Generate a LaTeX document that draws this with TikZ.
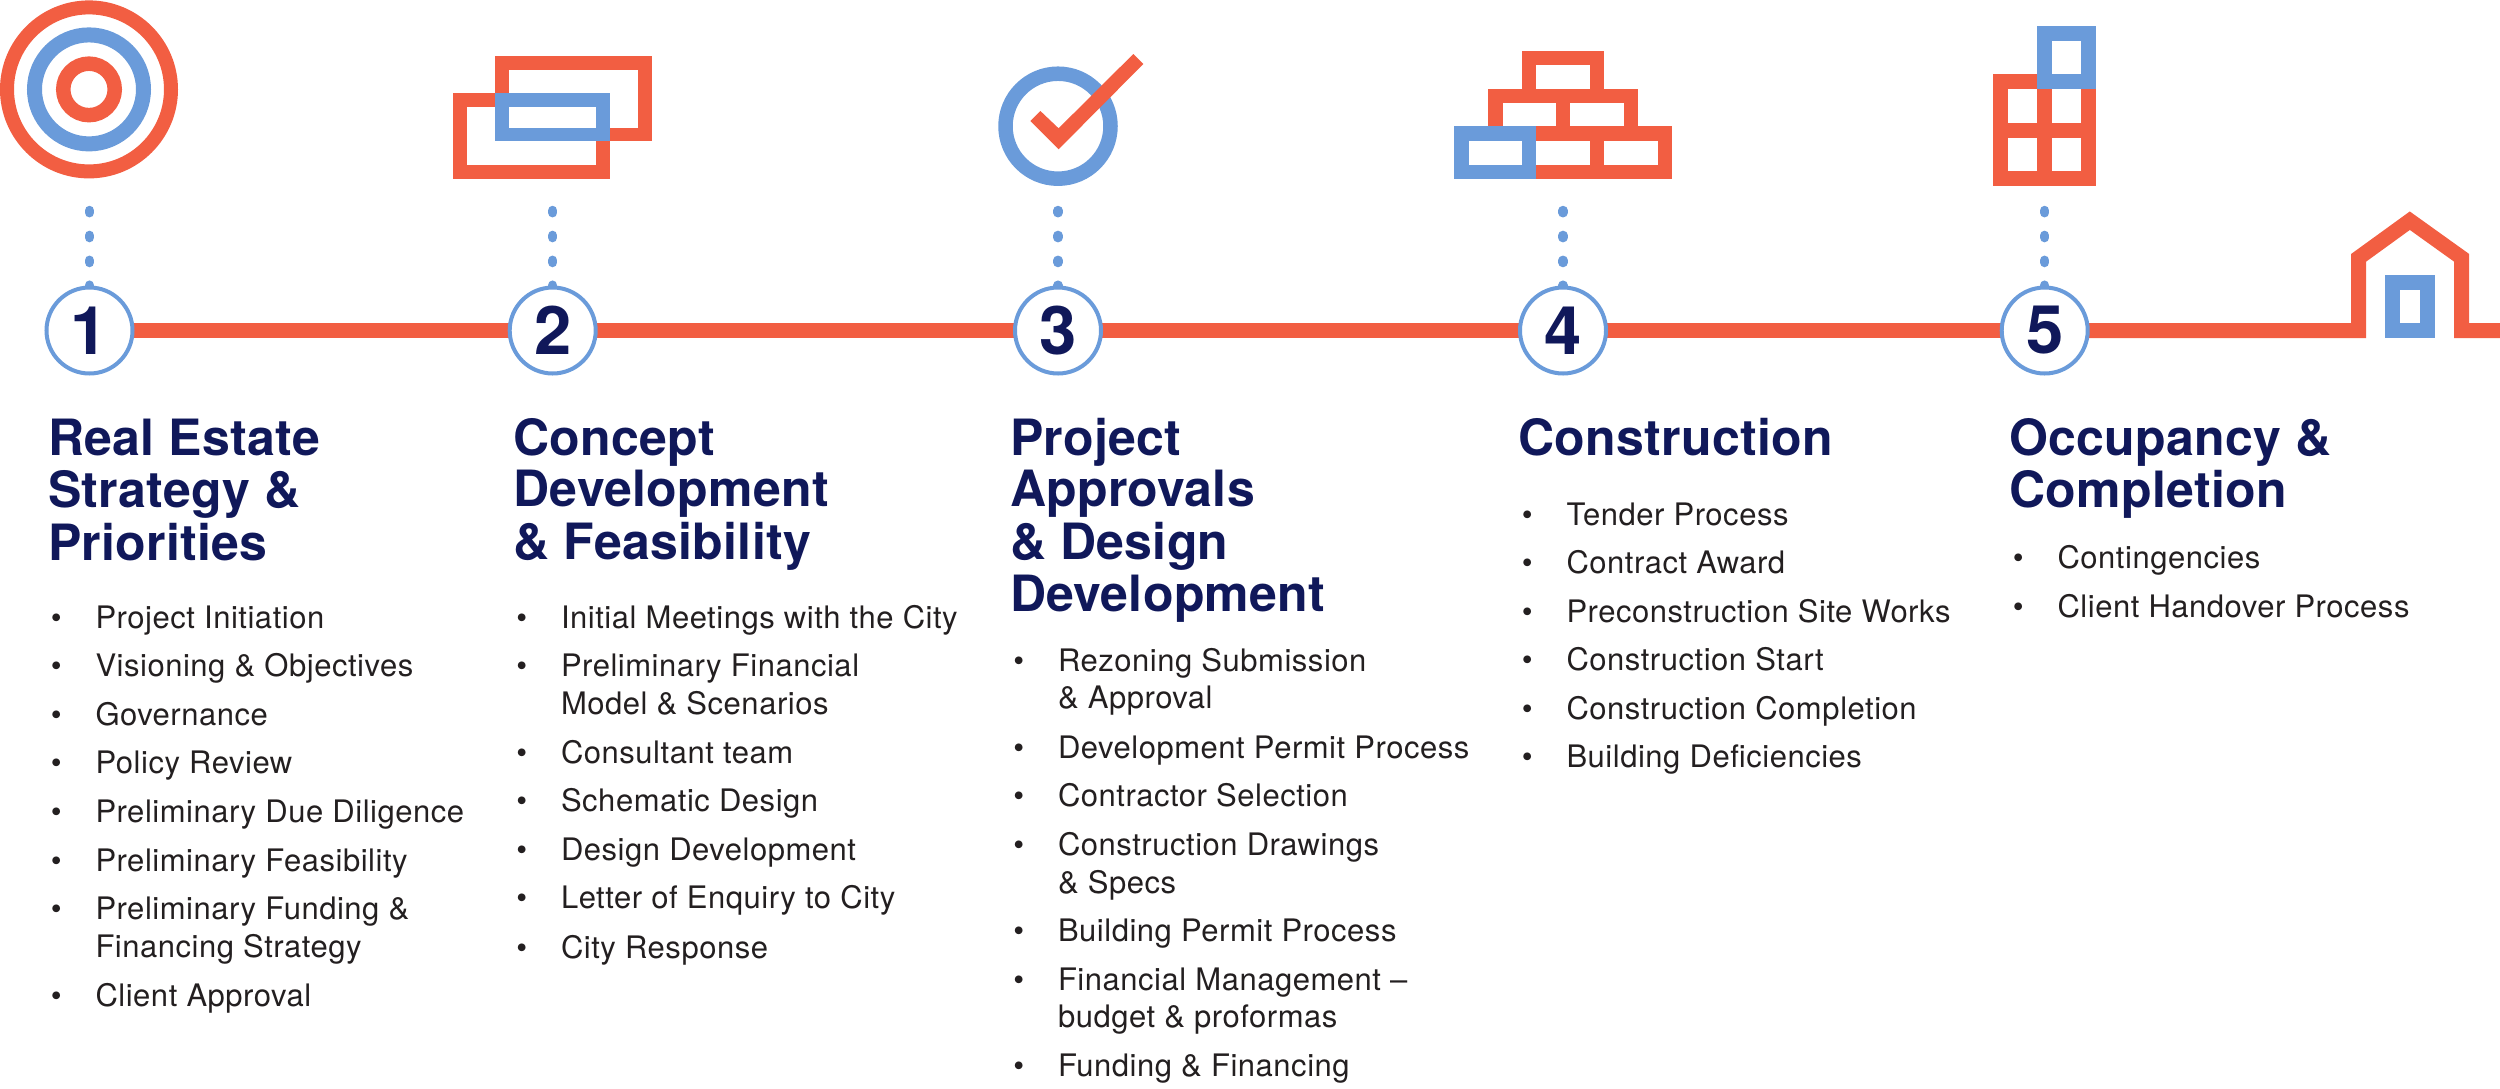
\documentclass[tikz,border=0pt]{standalone}
\usepackage{fontspec}
\setmainfont{TeX Gyre Heros}
\newfontfamily\titlefont[LetterSpace=0.6]{TeX Gyre Heros}
\newfontfamily\itemfont[LetterSpace=1.7]{TeX Gyre Heros}
\usetikzlibrary{backgrounds}
\definecolor{redc}{HTML}{F25E42}
\definecolor{bluec}{HTML}{6A9BDA}
\definecolor{navy}{HTML}{10185A}
\definecolor{body}{HTML}{231F20}
\newcommand{\mlines}[1]{\begin{tabular}[t]{@{}l@{}}#1\end{tabular}}
\newcommand{\bitem}[4]{%
  \node[bulletmark] (#1b) at (#2+3.25,#3) {•};
  \node[itemtext] (#1) at (#2+48,#3) {#4};}
\tikzset{
  redline/.style={draw=redc,line width=15pt,miter limit=10,fill=none},
  blueline/.style={draw=bluec,line width=15pt,fill=none},
  numcircle/.style={circle,draw=bluec,line width=4pt,fill=white,minimum size=86pt,inner sep=0pt,outer sep=0pt,text=navy,font=\fontsize{67}{67}\selectfont\bfseries},
  dotline/.style={draw=bluec,line width=9.5pt,line cap=round,dash pattern=on 2.2pt off 22.7pt},
  titletext/.style={anchor=base west,inner sep=0pt,outer sep=0pt,text=navy,font=\fontsize{50}{51.5}\titlefont\bfseries},
  itemtext/.style={anchor=base west,inner sep=0pt,outer sep=0pt,text=body,font=\fontsize{31}{37.5}\itemfont},
  bulletmark/.style={anchor=base west,inner sep=0pt,outer sep=0pt,text=body,font=\fontsize{31}{37.5}\selectfont},
}
\begin{document}
\begin{tikzpicture}[x=1pt,y=-1pt]
\useasboundingbox (0,0) rectangle (2500,1088);
% icon 1: target
\draw[redc,line width=14pt] (89,89.4) circle (82);
\draw[bluec,line width=15pt] (89,89.4) circle (54.5);
\draw[redc,line width=14.5pt] (89,89.4) circle (25.75);
% icon 2: rectangles
\draw[redline,line width=13.8pt] (501.9,62.9) rectangle (645.1,134.5);
\draw[redline,line width=13.8pt] (459.9,99.8) rectangle (603.1,171.9);
\draw[blueline,line width=13.8pt] (501.9,99.8) rectangle (603.1,134.5);
% icon 3: check
\draw[bluec,line width=14.5pt] (1058,126.2) circle (52.5);
\fill[redc] (1133.3,54) -- (1143.3,64) -- (1058.6,149.3) -- (1030.4,121) -- (1040.4,111) -- (1058.6,128.3) -- cycle;
% icon 4: bricks
\begin{scope}[redline,line width=14.3pt]
\draw (1529.3,58) rectangle (1597,95.8);
\draw (1495.5,95.8) rectangle (1563.3,133.4);
\draw (1563.3,95.8) rectangle (1631,133.4);
\draw (1529.3,133.4) rectangle (1597,171.7);
\draw (1597,133.4) rectangle (1665,171.7);
\end{scope}
\draw[blueline,line width=14.3pt] (1461.5,133.4) rectangle (1529.3,171.7);
% icon 5: building
\begin{scope}[redline,line width=15pt]
\draw (2000.5,81.9) rectangle (2044.5,130.1);
\draw (2044.5,81.9) rectangle (2088.3,130.1);
\draw (2000.5,130.1) rectangle (2044.5,178.3);
\draw (2044.5,130.1) rectangle (2088.3,178.3);
\end{scope}
\draw[blueline] (2044.5,33.4) rectangle (2088.3,81.9);
% door
\draw[blueline] (2392.4,282.5) rectangle (2427,330.8);
% numbered circles
\node[numcircle] (n1) at (89.5,330.5) {1};
\node[numcircle] (n2) at (552.7,330.5) {2};
\node[numcircle] (n3) at (1058,330.5) {3};
\node[numcircle] (n4) at (1563,330.5) {4};
\node[numcircle] (n5) at (2044.7,330.5) {5};
% free ends
\coordinate (d1) at (89.5,210.5);
\coordinate (d2) at (552.7,210.5);
\coordinate (d3) at (1058,210.5);
\coordinate (d4) at (1563,210.5);
\coordinate (d5) at (2044.7,210.5);
\coordinate (hbl) at (2358.6,330.5);
\coordinate (hsl) at (2358.6,257.8);
\coordinate (hap) at (2409.8,220.7);
\coordinate (hsr) at (2461.6,257.8);
\coordinate (hbr) at (2461.6,330.5);
\coordinate (hend) at (2500,330.5);
\begin{scope}[on background layer]
\draw[redline] (n1) -- (n2);
\draw[redline] (n2) -- (n3);
\draw[redline] (n3) -- (n4);
\draw[redline] (n4) -- (n5);
\draw[redline] (n5) -- (hbl) -- (hsl) -- (hap) -- (hsr) -- (hbr) -- (hend);
\draw[dotline] (d1) -- (n1);
\draw[dotline] (d2) -- (n2);
\draw[dotline] (d3) -- (n3);
\draw[dotline] (d4) -- (n4);
\draw[dotline] (d5) -- (n5);
\end{scope}
% column 1
\node[titletext] (t1) at (48,455) {\mlines{Real Estate\\Strategy \&\\Priorities}};
\bitem{a1}{47.5}{628}{Project Initiation}
\bitem{a2}{47.5}{676.5}{Visioning \& Objectives}
\bitem{a3}{47.5}{725}{Governance}
\bitem{a4}{47.5}{773.5}{Policy Review}
\bitem{a5}{47.5}{822.5}{Preliminary Due Diligence}
\bitem{a6}{47.5}{871}{Preliminary Feasibility}
\bitem{a7}{47.5}{919.5}{\mlines{Preliminary Funding \&\\Financing Strategy}}
\bitem{a8}{47.5}{1006.5}{Client Approval}
% column 2
\node[titletext] (t2) at (513.5,455) {\mlines{Concept\\Development\\\& Feasibility}};
\bitem{b1}{513}{628}{Initial Meetings with the City}
\bitem{b2}{513}{676.5}{\mlines{Preliminary Financial\\Model \& Scenarios}}
\bitem{b3}{513}{763.5}{Consultant team}
\bitem{b4}{513}{811.5}{Schematic Design}
\bitem{b5}{513}{860.5}{Design Development}
\bitem{b6}{513}{908.5}{Letter of Enquiry to City}
\bitem{b7}{513}{958}{City Response}
% column 3
\node[titletext] (t3) at (1010,455) {\mlines{Project\\Approvals\\\& Design\\Development}};
\bitem{c1}{1010}{671}{\mlines{Rezoning Submission\\\& Approval}}
\bitem{c2}{1010}{758}{Development Permit Process}
\bitem{c3}{1010}{806.7}{Contractor Selection}
\bitem{c4}{1010}{855.7}{\mlines{Construction Drawings\\\& Specs}}
\bitem{c5}{1010}{941.7}{Building Permit Process}
\bitem{c6}{1010}{990}{\mlines{Financial Management –\\budget \& proformas}}
\bitem{c7}{1010}{1076.7}{Funding \& Financing}
% column 4
\node[titletext] (t4) at (1518.5,455) {Construction};
\bitem{e1}{1518.5}{525}{Tender Process}
\bitem{e2}{1518.5}{573.5}{Contract Award}
\bitem{e3}{1518.5}{622}{Preconstruction Site Works}
\bitem{e4}{1518.5}{670.5}{Construction Start}
\bitem{e5}{1518.5}{719}{Construction Completion}
\bitem{e6}{1518.5}{767.5}{Building Deficiencies}
% column 5
\node[titletext] (t5) at (2009.5,455) {\mlines{Occupancy \&\\Completion}};
\bitem{f1}{2009.5}{568}{Contingencies}
\bitem{f2}{2009.5}{617}{Client Handover Process}
\end{tikzpicture}
\end{document}
